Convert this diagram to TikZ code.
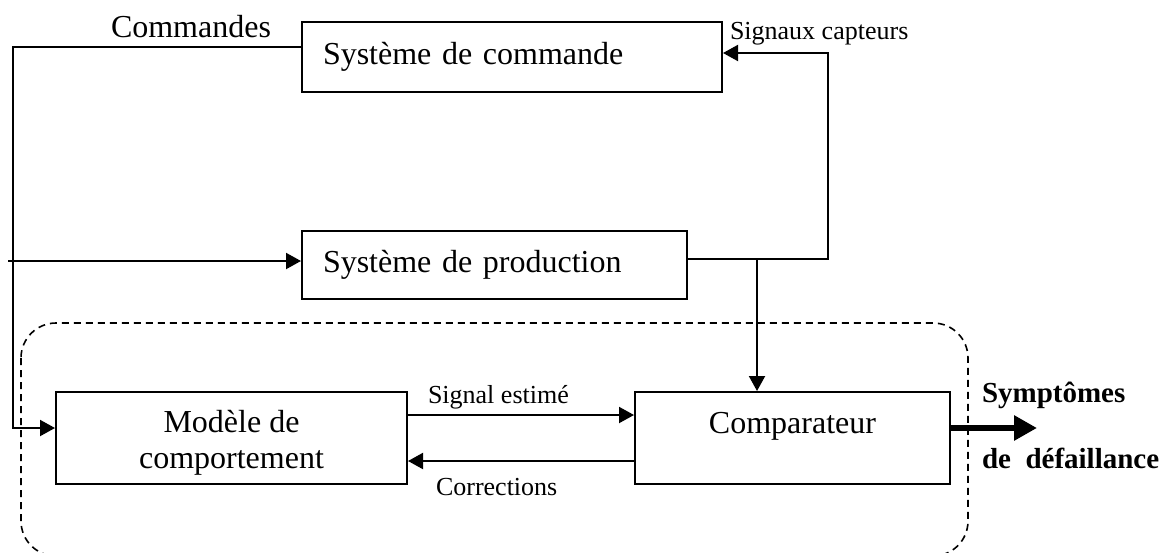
\documentclass[tikz,border=0pt]{standalone}
\usepackage{fontspec}
\setmainfont{Liberation Serif}
\usepackage{xcolor}
\usetikzlibrary{arrows.meta}

\tikzset{
  bloc/.style={draw, line width=1pt, inner sep=0pt, font=\fontsize{16}{18}\selectfont},
  fleche/.style={-{Triangle[length=7.5pt,width=8pt]}},
  petit/.style={inner sep=0pt, font=\fontsize{13}{15}\selectfont},
  gras/.style={inner sep=0pt, font=\fontsize{14.5}{17}\selectfont\bfseries}
}

\begin{document}
\begin{tikzpicture}[x=0.5pt, y=-0.5pt, line width=1pt]
    \useasboundingbox (0,0) rectangle (1170,552);
    % boites
    \node[bloc, minimum width=210pt, minimum height=35pt, text width=189pt, align=left] (cmd) at (512,56.5) {Système de commande};
    \node[bloc, minimum width=192.5pt, minimum height=34pt, text width=171.5pt, align=left] (prod) at (494.5,265) {Système de production};
    \node[bloc, minimum width=175.5pt, minimum height=46pt, text height=33.5pt, text depth=3.5pt, align=center] (mod) at (231.5,438) {Modèle de\\comportement};
    \node[bloc, minimum width=157.5pt, minimum height=46pt, text height=11pt, text depth=16pt] (comp) at (792.5,438) {Comparateur};
    \draw[line width=0.8pt, dash pattern=on 3.5pt off 2.5pt, rounded corners=17.5pt] (21,323) rectangle (968,556);
    % commandes
    \coordinate (g1) at (13,47);
    \coordinate (g2) at (13,428);
    \coordinate (entree) at (8,261);
    \draw[fleche] (cmd.west |- g1) -- (g1) -- (g2) -- (mod.west |- g2);
    \draw[fleche] (entree) -- (prod.west |- entree);
    \node[anchor=base west, inner sep=0pt, font=\fontsize{16}{18}\selectfont] (lcmd) at (110,37) {Commandes};
    % capteurs
    \coordinate (r1) at (828,259);
    \coordinate (r2) at (828,53);
    \coordinate (b) at (757,259);
    \draw[fleche] (prod.east |- r1) -- (r1) -- (r2) -- (cmd.east |- r2);
    \draw[fleche] (b) -- (b |- comp.north);
    \node[petit, anchor=base west] (lcapt) at (729,39) {Signaux capteurs};
    % estimation
    \draw[fleche] ([yshift=11.5pt]mod.east) -- ([yshift=11.5pt]comp.west);
    \draw[fleche] ([yshift=-11.5pt]comp.west) -- ([yshift=-11.5pt]mod.east);
    \node[petit, anchor=base west] (lest) at (427,403) {Signal estimé};
    \node[petit, anchor=base west] (lcorr) at (435,495) {Corrections};
    % sortie
    \coordinate (sym) at (1037,428);
    \draw[line width=3.3pt, -{Triangle[length=11.5pt,width=12pt]}] (comp.east |- sym) -- (sym);
    \node[gras, anchor=base west] (lsym1) at (981,402) {Symptômes};
    \node[gras, anchor=base west] (lsym2) at (981,468) {de\ \ défaillance};
\end{tikzpicture}
\end{document}
